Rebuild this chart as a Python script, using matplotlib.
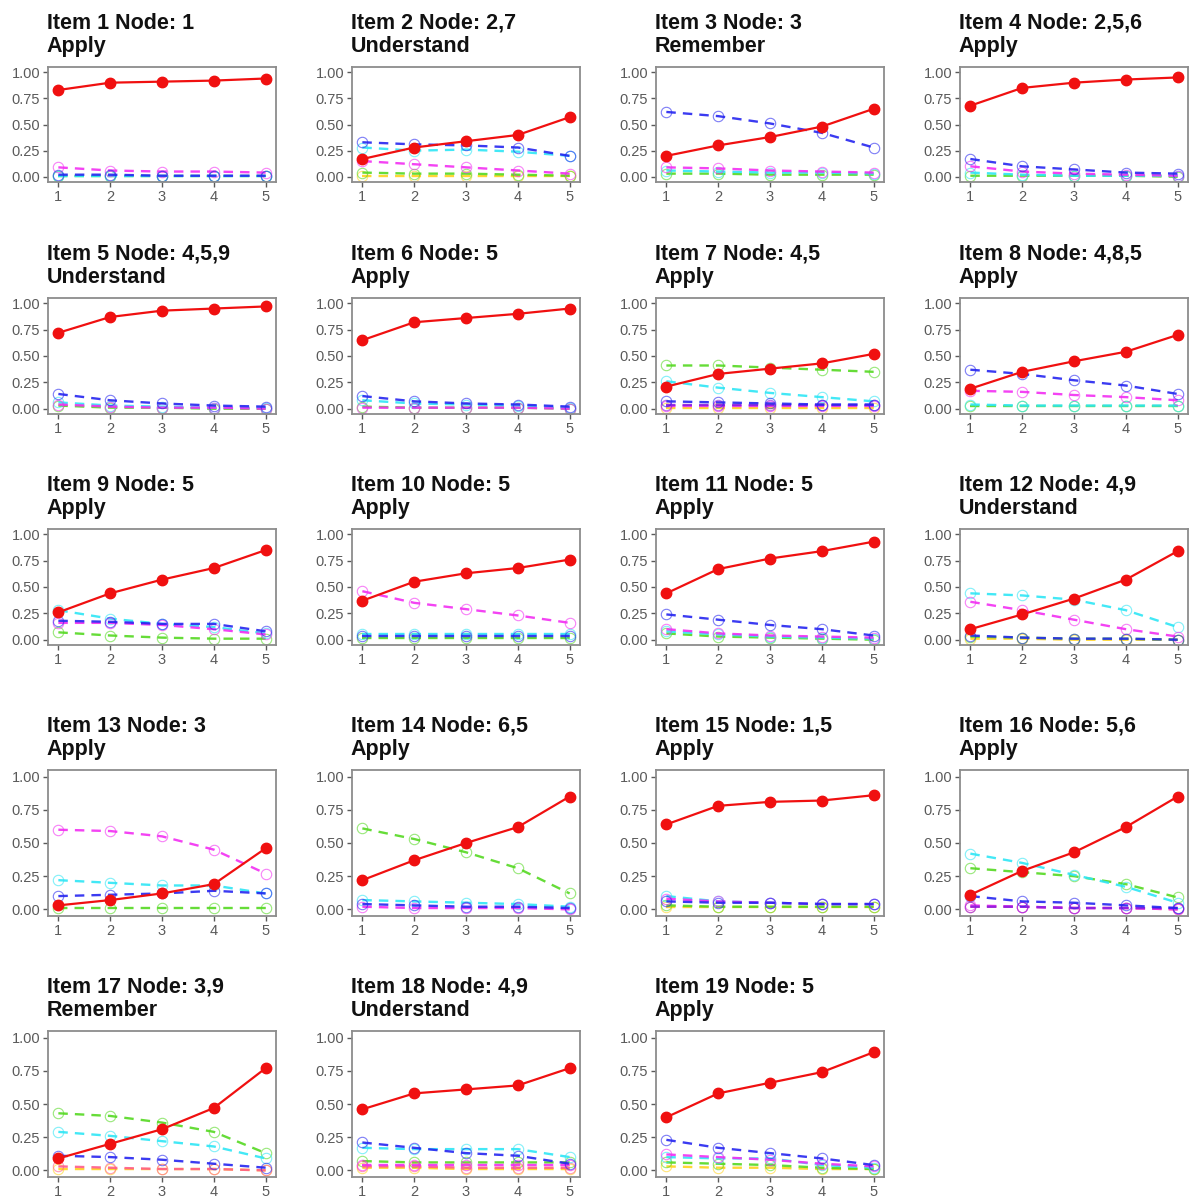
import matplotlib
matplotlib.use("Agg")
import matplotlib.pyplot as plt

plt.rcParams['font.family'] = ['Liberation Sans', 'DejaVu Sans']

X = [1, 2, 3, 4, 5]

TITLES = ["Item 1 Node: 1", "Item 2 Node: 2,7", "Item 3 Node: 3", "Item 4 Node: 2,5,6",
          "Item 5 Node: 4,5,9", "Item 6 Node: 5", "Item 7 Node: 4,5", "Item 8 Node: 4,8,5",
          "Item 9 Node: 5", "Item 10 Node: 5", "Item 11 Node: 5", "Item 12 Node: 4,9",
          "Item 13 Node: 3", "Item 14 Node: 6,5", "Item 15 Node: 1,5", "Item 16 Node: 5,6",
          "Item 17 Node: 3,9", "Item 18 Node: 4,9", "Item 19 Node: 5"]
LEVELS = ["Apply", "Understand", "Remember", "Apply",
          "Understand", "Apply", "Apply", "Apply",
          "Apply", "Apply", "Apply", "Understand",
          "Apply", "Apply", "Apply", "Apply",
          "Remember", "Understand", "Apply"]

# correct option (red, solid)
KEY = [
    [0.83, 0.90, 0.91, 0.92, 0.94],
    [0.17, 0.28, 0.34, 0.40, 0.57],
    [0.20, 0.30, 0.38, 0.48, 0.65],
    [0.68, 0.85, 0.90, 0.93, 0.95],
    [0.72, 0.87, 0.93, 0.95, 0.97],
    [0.65, 0.82, 0.86, 0.90, 0.95],
    [0.21, 0.33, 0.38, 0.43, 0.52],
    [0.19, 0.35, 0.45, 0.54, 0.70],
    [0.26, 0.44, 0.57, 0.68, 0.85],
    [0.37, 0.55, 0.63, 0.68, 0.76],
    [0.44, 0.67, 0.77, 0.84, 0.93],
    [0.10, 0.24, 0.39, 0.57, 0.84],
    [0.03, 0.07, 0.12, 0.19, 0.46],
    [0.22, 0.37, 0.50, 0.62, 0.85],
    [0.64, 0.78, 0.81, 0.82, 0.86],
    [0.11, 0.29, 0.43, 0.62, 0.85],
    [0.09, 0.20, 0.31, 0.47, 0.77],
    [0.46, 0.58, 0.61, 0.64, 0.77],
    [0.40, 0.58, 0.66, 0.74, 0.89],
]

# distractors (dashed, open circles)
BLUE = [
    [0.02, 0.02, 0.01, 0.01, 0.01],
    [0.33, 0.31, 0.30, 0.28, 0.20],
    [0.62, 0.58, 0.51, 0.42, 0.28],
    [0.17, 0.10, 0.07, 0.04, 0.03],
    [0.14, 0.08, 0.05, 0.03, 0.02],
    [0.12, 0.07, 0.05, 0.04, 0.02],
    [0.07, 0.06, 0.05, 0.04, 0.04],
    [0.37, 0.33, 0.27, 0.22, 0.14],
    [0.18, 0.17, 0.15, 0.15, 0.08],
    [0.04, 0.04, 0.04, 0.04, 0.04],
    [0.24, 0.19, 0.14, 0.10, 0.04],
    [0.04, 0.02, 0.01, 0.01, 0.00],
    [0.10, 0.11, 0.12, 0.14, 0.12],
    [0.04, 0.03, 0.02, 0.02, 0.01],
    [0.06, 0.05, 0.05, 0.04, 0.04],
    [0.10, 0.06, 0.05, 0.03, 0.01],
    [0.11, 0.10, 0.08, 0.05, 0.02],
    [0.21, 0.17, 0.13, 0.11, 0.05],
    [0.23, 0.17, 0.13, 0.09, 0.04],
]
CYAN = [
    [0.01, 0.01, 0.01, 0.01, 0.01],
    [0.28, 0.25, 0.26, 0.24, 0.20],
    [0.06, 0.05, 0.04, 0.04, 0.03],
    [0.04, 0.02, 0.01, 0.01, 0.01],
    [0.06, 0.03, 0.02, 0.01, 0.01],
    [0.08, 0.05, 0.04, 0.03, 0.01],
    [0.26, 0.20, 0.15, 0.11, 0.07],
    [0.04, 0.03, 0.03, 0.03, 0.03],
    [0.28, 0.20, 0.15, 0.12, 0.06],
    [0.05, 0.05, 0.05, 0.05, 0.05],
    [0.08, 0.05, 0.03, 0.02, 0.01],
    [0.44, 0.42, 0.38, 0.28, 0.12],
    [0.22, 0.20, 0.18, 0.18, 0.12],
    [0.07, 0.06, 0.05, 0.04, 0.02],
    [0.10, 0.06, 0.05, 0.04, 0.04],
    [0.42, 0.35, 0.26, 0.17, 0.05],
    [0.29, 0.26, 0.22, 0.18, 0.09],
    [0.17, 0.16, 0.16, 0.16, 0.10],
    [0.10, 0.09, 0.09, 0.04, 0.02],
]
MAGENTA = [
    [0.09, 0.06, 0.05, 0.05, 0.04],
    [0.15, 0.12, 0.09, 0.06, 0.03],
    [0.09, 0.08, 0.06, 0.05, 0.04],
    [0.10, 0.05, 0.03, 0.02, 0.01],
    [0.04, 0.02, 0.01, 0.01, 0.00],
    [0.01, 0.01, 0.01, 0.01, 0.00],
    [0.03, 0.03, 0.03, 0.03, 0.03],
    [0.17, 0.16, 0.13, 0.11, 0.08],
    [0.16, 0.16, 0.14, 0.10, 0.05],
    [0.46, 0.35, 0.29, 0.23, 0.16],
    [0.10, 0.06, 0.04, 0.03, 0.02],
    [0.36, 0.28, 0.19, 0.10, 0.03],
    [0.60, 0.59, 0.55, 0.45, 0.27],
    [0.02, 0.01, 0.01, 0.01, 0.00],
    [0.08, 0.06, 0.05, 0.04, 0.04],
    [0.03, 0.02, 0.01, 0.01, 0.00],
    None,
    [0.04, 0.04, 0.04, 0.04, 0.04],
    [0.12, 0.10, 0.08, 0.05, 0.03],
]
GREEN = [
    [0.005, 0.005, 0.005, 0.005, 0.005],
    [0.04, 0.03, 0.03, 0.02, 0.01],
    [0.03, 0.03, 0.02, 0.02, 0.02],
    [0.01, 0.01, 0.01, 0.01, 0.00],
    [0.03, 0.01, 0.01, 0.00, 0.00],
    [0.02, 0.01, 0.01, 0.01, 0.00],
    [0.41, 0.41, 0.39, 0.37, 0.35],
    [0.03, 0.03, 0.03, 0.03, 0.03],
    [0.07, 0.04, 0.02, 0.01, 0.01],
    [0.02, 0.02, 0.02, 0.02, 0.02],
    [0.06, 0.03, 0.02, 0.01, 0.00],
    [0.03, 0.02, 0.01, 0.01, 0.00],
    [0.01, 0.01, 0.01, 0.01, 0.01],
    [0.61, 0.53, 0.43, 0.31, 0.12],
    [0.03, 0.02, 0.02, 0.02, 0.02],
    [0.31, 0.28, 0.25, 0.19, 0.09],
    [0.43, 0.41, 0.36, 0.29, 0.13],
    [0.07, 0.06, 0.06, 0.06, 0.06],
    [0.06, 0.05, 0.04, 0.02, 0.01],
]
YELLOW = [
    None,
    [0.01, 0.01, 0.01, 0.01, 0.01],
    None, None, None, None,
    [0.01, 0.01, 0.01, 0.01, 0.01],
    None, None, None, None,
    [0.01, 0.01, 0.00, 0.00, 0.00],
    None, None,
    [0.02, 0.02, 0.02, 0.02, 0.02],
    None,
    [0.01, 0.01, 0.01, 0.01, 0.00],
    [0.02, 0.02, 0.01, 0.01, 0.01],
    [0.03, 0.02, 0.02, 0.01, 0.01],
]
PINK = [
    None, None, None, None, None, None, None, None, None, None, None, None, None, None, None,
    [0.02, 0.02, 0.01, 0.01, 0.00],
    [0.03, 0.02, 0.01, 0.01, 0.00],
    [0.03, 0.03, 0.02, 0.02, 0.02],
    None,
]
PURPLE = [
    None, None, None, None, None, None,
    [0.04, 0.04, 0.04, 0.04, 0.04],
    None, None, None, None, None, None, None, None,
    [0.02, 0.02, 0.01, 0.01, 0.01],
    None, None, None,
]

DISTRACTORS = [(YELLOW, '#FFD21F'), (GREEN, '#55D922'), (PINK, '#FF5C8A'),
               (CYAN, '#2EE6F5'), (MAGENTA, '#F22EF2'), (PURPLE, '#8A1FE0'),
               (BLUE, '#2626F0')]

W, H = 1190, 1198
fig = plt.figure(figsize=(W / 100, H / 100), dpi=100)

COL_X = [48, 352, 656, 960]
ROW_Y = [(67, 182), (298, 414), (529, 645), (770, 916), (1031, 1177)]
BOX_W = 228

for i in range(19):
    r, c = divmod(i, 4)
    top, bot = ROW_Y[r]
    x0 = COL_X[c]
    ax = fig.add_axes([x0 / W, 1 - bot / H, BOX_W / W, (bot - top) / H])

    for series, color in DISTRACTORS:
        vals = series[i]
        if vals is None:
            continue
        ax.plot(X, vals, color=color, lw=1.7, ls=(0, (4, 3)), alpha=0.9)
        ax.plot(X, vals, ls='none', marker='o', ms=7.5, mfc='none',
                mec=color, mew=0.8, alpha=0.6)
    ax.plot(X, KEY[i], color='#F01010', lw=1.6, marker='o', ms=7.5,
            mfc='#F01010', mec='#F01010')

    ax.set_xlim(0.8, 5.2)
    ax.set_ylim(-0.05, 1.05)
    ax.set_xticks(X)
    ax.set_yticks([0, 0.25, 0.5, 0.75, 1.0])
    ax.set_yticklabels(["0.00", "0.25", "0.50", "0.75", "1.00"])
    ax.tick_params(labelsize=10.5, labelcolor='#5a5a5a', color='#5a5a5a',
                   length=3.5, width=1, pad=2)
    for s in ax.spines.values():
        s.set_color('#8c8c8c')
        s.set_linewidth(1.3)

    ax.annotate(TITLES[i] + "\n" + LEVELS[i], xy=(0, 1), xycoords='axes fraction',
                xytext=(-1, 7), textcoords='offset points', ha='left', va='bottom',
                fontsize=15.5, fontweight='bold', color='#111111', linespacing=1.15)

fig.savefig("out.png", dpi=100)
